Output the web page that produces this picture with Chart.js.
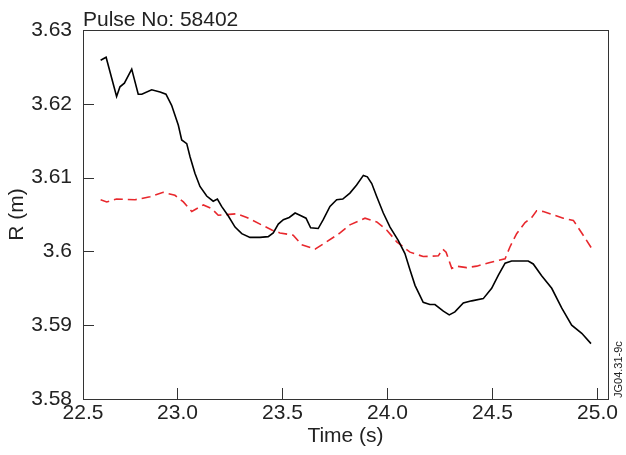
<!DOCTYPE html>
<html>
<head>
<meta charset="utf-8">
<title>Pulse No: 58402</title>
<script src="https://cdn.jsdelivr.net/npm/chart.js@4.4.1/dist/chart.umd.min.js"></script>
<style>
  html, body { margin: 0; padding: 0; background: #fff; }
  #wrap { width: 626px; height: 455px; }
</style>
</head>
<body>
<div id="wrap"><canvas id="radiusChart"></canvas></div>
<script>
// Measured major radius (solid black)
const measuredTime = [22.634, 22.660, 22.710, 22.726, 22.747, 22.782, 22.813, 22.830, 22.877, 22.917,
    22.945, 22.972, 23.004, 23.020, 23.044, 23.060, 23.083, 23.107, 23.139, 23.170,
    23.190, 23.210, 23.242, 23.274, 23.306, 23.345, 23.393, 23.432, 23.456, 23.480,
    23.504, 23.532, 23.560, 23.583, 23.612, 23.634, 23.670, 23.694, 23.726, 23.758,
    23.787, 23.821, 23.853, 23.885, 23.904, 23.925, 23.949, 23.980, 24.012, 24.051,
    24.083, 24.107, 24.131, 24.170, 24.202, 24.226, 24.266, 24.294, 24.321, 24.361,
    24.401, 24.456, 24.496, 24.528, 24.560, 24.591, 24.670, 24.694, 24.734, 24.782,
    24.830, 24.877, 24.925, 24.969];
const measuredR = [3.6259, 3.6263, 3.6210, 3.6223, 3.6228, 3.6247, 3.6213, 3.6213, 3.6219, 3.6216,
    3.6213, 3.6198, 3.6171, 3.6151, 3.6146, 3.6128, 3.6106, 3.6088, 3.6075, 3.6068,
    3.6071, 3.6061, 3.6048, 3.6033, 3.6024, 3.6019, 3.6019, 3.6020, 3.6025, 3.6037,
    3.6043, 3.6046, 3.6052, 3.6049, 3.6045, 3.6032, 3.6031, 3.6043, 3.6061, 3.6070,
    3.6071, 3.6079, 3.6090, 3.6103, 3.6101, 3.6092, 3.6074, 3.6052, 3.6033, 3.6015,
    3.5997, 3.5975, 3.5954, 3.5931, 3.5928, 3.5928, 3.5919, 3.5914, 3.5918, 3.5930,
    3.5933, 3.5936, 3.5950, 3.5968, 3.5984, 3.5987, 3.5987, 3.5983, 3.5967, 3.5950,
    3.5923, 3.5900, 3.5889, 3.5875];

// Reference radius (dashed red)
const referenceTime = [22.634, 22.663, 22.710, 22.798, 22.869, 22.932, 22.988, 23.028, 23.068, 23.123,
    23.163, 23.194, 23.282, 23.330, 23.393, 23.449, 23.488, 23.551, 23.591, 23.655,
    23.710, 23.774, 23.821, 23.893, 23.949, 23.996, 24.044, 24.107, 24.170, 24.242,
    24.263, 24.279, 24.306, 24.330, 24.377, 24.425, 24.488, 24.560, 24.583, 24.615,
    24.655, 24.687, 24.710, 24.742, 24.837, 24.885, 24.925, 24.977];
const referenceR = [3.6070, 3.6067, 3.6071, 3.6070, 3.6074, 3.6080, 3.6076, 3.6067, 3.6054, 3.6063,
    3.6058, 3.6049, 3.6051, 3.6046, 3.6037, 3.6029, 3.6025, 3.6022, 3.6009, 3.6003,
    3.6013, 3.6025, 3.6036, 3.6045, 3.6040, 3.6029, 3.6013, 3.5999, 3.5993, 3.5994,
    3.6003, 3.5999, 3.5977, 3.5980, 3.5978, 3.5980, 3.5985, 3.5990, 3.6006, 3.6024,
    3.6039, 3.6046, 3.6055, 3.6054, 3.6045, 3.6042, 3.6025, 3.6002];

// Axis ticks; the first x label sits on the left edge of the frame
const xTickValues = [22.55, 23.0, 23.5, 24.0, 24.5, 25.0];
const xTickLabels = ['22.5', '23.0', '23.5', '24.0', '24.5', '25.0'];
const yTickValues = [3.58, 3.59, 3.6, 3.61, 3.62, 3.63];
const yTickLabels = ['3.58', '3.59', '3.6', '3.61', '3.62', '3.63'];

const FONT = "'Liberation Sans', Arial, Helvetica, sans-serif";

function toPoints(times, values) {
    return times.map((t, i) => ({ x: t, y: values[i] }));
}

// Box around the plot, inward tick marks and the extra labels
const framePlugin = {
    id: 'frame',
    afterDraw(chart) {
        const { ctx, chartArea: a, scales: { x, y } } = chart;
        ctx.save();
        ctx.strokeStyle = '#333';
        ctx.lineWidth = 1;
        ctx.strokeRect(a.left + 0.5, a.top + 0.5, a.right - a.left, a.bottom - a.top);

        ctx.beginPath();
        y.ticks.forEach(t => {
            if (t.value <= y.min || t.value >= y.max) return;
            const py = Math.round(y.getPixelForValue(t.value)) + 0.5;
            ctx.moveTo(a.left, py);
            ctx.lineTo(a.left + 11, py);
        });
        x.ticks.forEach(t => {
            if (t.value <= x.min || t.value >= x.max) return;
            const px = Math.round(x.getPixelForValue(t.value)) + 0.5;
            ctx.moveTo(px, a.bottom);
            ctx.lineTo(px, a.bottom - 11);
        });
        ctx.stroke();

        ctx.fillStyle = '#222';
        ctx.font = '21px ' + FONT;
        ctx.textAlign = 'left';
        ctx.textBaseline = 'alphabetic';
        ctx.fillText('Pulse No: 58402', a.left, 26);

        ctx.translate(622, 398);
        ctx.rotate(-Math.PI / 2);
        ctx.font = '11px ' + FONT;
        ctx.fillText('JG04.31-9c', 0, 0);
        ctx.restore();
    }
};

const radiusChart = new Chart(document.getElementById('radiusChart'), {
    type: 'scatter',
    data: {
        datasets: [
            {
                label: 'Measured',
                data: toPoints(measuredTime, measuredR),
                showLine: true,
                borderColor: '#000',
                borderWidth: 1.6,
                pointRadius: 0,
                tension: 0
            },
            {
                label: 'Reference',
                data: toPoints(referenceTime, referenceR),
                showLine: true,
                borderColor: 'rgb(232, 40, 45)',
                borderWidth: 1.6,
                borderDash: [9, 5],
                pointRadius: 0,
                tension: 0
            }
        ]
    },
    options: {
        responsive: true,
        maintainAspectRatio: false,
        animation: false,
        devicePixelRatio: 1,
        layout: { padding: { left: 0, right: 18, top: 30, bottom: 0 } },
        plugins: {
            legend: { display: false },
            tooltip: { enabled: false }
        },
        scales: {
            x: {
                type: 'linear',
                min: 22.55,
                max: 25.05,
                afterFit: s => { s.height = 56; },
                afterBuildTicks: s => { s.ticks = xTickValues.map(v => ({ value: v })); },
                grid: { display: false },
                border: { display: false },
                ticks: {
                    color: '#222',
                    padding: -6,
                    maxRotation: 0,
                    font: { family: FONT, size: 21 },
                    callback: (v, i) => xTickLabels[i]
                },
                title: {
                    display: true,
                    text: 'Time (s)',
                    color: '#222',
                    font: { family: FONT, size: 21 },
                    padding: { top: 0, bottom: 6 }
                }
            },
            y: {
                type: 'linear',
                min: 3.58,
                max: 3.63,
                afterFit: s => { s.width = 83; },
                afterBuildTicks: s => { s.ticks = yTickValues.map(v => ({ value: v })); },
                grid: { display: false },
                border: { display: false },
                ticks: {
                    color: '#222',
                    padding: 3,
                    font: { family: FONT, size: 21 },
                    callback: (v, i) => yTickLabels[i]
                },
                title: {
                    display: true,
                    text: 'R (m)',
                    color: '#222',
                    font: { family: FONT, size: 21 },
                    padding: { top: 5, bottom: 0 }
                }
            }
        }
    },
    plugins: [framePlugin]
});
</script>
</body>
</html>
